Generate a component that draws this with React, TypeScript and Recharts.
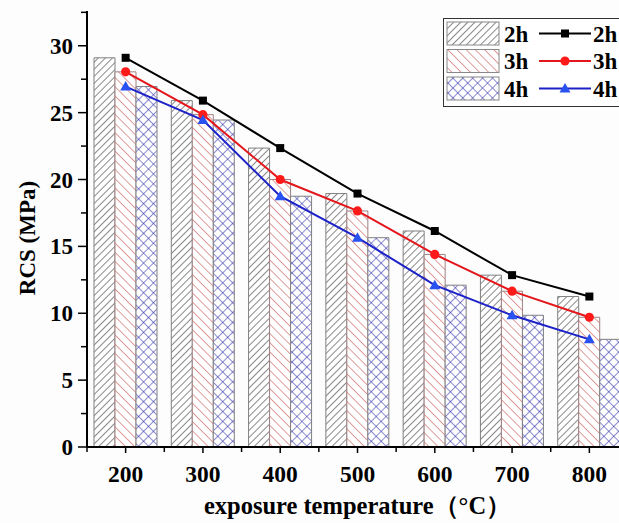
import {
  ComposedChart,
  Bar,
  Line,
  XAxis,
  YAxis,
  Legend,
} from "recharts";

// RCS vs exposure temperature, bars + lines for 2h / 3h / 4h exposure.

const temperatures = ["200", "300", "400", "500", "600", "700", "800"];
const rcs2h = [29.1, 25.9, 22.35, 18.95, 16.15, 12.85, 11.25];
const rcs3h = [28.05, 24.85, 20.0, 17.65, 14.4, 11.65, 9.7];
const rcs4h = [26.95, 24.45, 18.75, 15.65, 12.1, 9.85, 8.05];
const yTicks = [0, 2.5, 5, 7.5, 10, 12.5, 15, 17.5, 20, 22.5, 25, 27.5, 30, 32.5];

const data = temperatures.map((t, i) => ({
  temp: t,
  h2: rcs2h[i],
  h3: rcs3h[i],
  h4: rcs4h[i],
}));

const W = 640;
const H = 523;
const M = { top: 11, right: 12, bottom: 0, left: 0 };
const Y_W = 87;
const BAND = (W - M.left - M.right - Y_W) / temperatures.length;

const FONT = "'Liberation Serif', 'Times New Roman', serif";
const LINE2 = "#000000";
const LINE3 = "#e3161b";
const LINE4 = "#1c22c8";
const DOT3 = "#ff1a1a";
const DOT4 = "#2a52f0";

function Square({ cx, cy, color }: any) {
  return <rect x={cx - 4} y={cy - 4} width={8} height={8} fill={color} />;
}
function Circle({ cx, cy, color }: any) {
  return <circle cx={cx} cy={cy} r={4.6} fill={color} />;
}
function Triangle({ cx, cy, color }: any) {
  return (
    <path
      d={`M${cx},${cy - 5.5} L${cx + 5.5},${cy + 4} L${cx - 5.5},${cy + 4} Z`}
      fill={color}
    />
  );
}

const YTick = ({ x, y, payload }: any) => {
  const major = payload.value % 5 === 0;
  return (
    <g>
      <line x1={x - (major ? 9 : 6)} x2={x} y1={y} y2={y} stroke="#000" strokeWidth={1.5} />
      {major && (
        <text
          x={x - 14}
          y={y + 8}
          textAnchor="end"
          fontFamily={FONT}
          fontWeight="bold"
          fontSize={23}
          fill="#000"
        >
          {payload.value}
        </text>
      )}
    </g>
  );
};

const XTick = ({ x, y, payload }: any) => (
  <g>
    <line x1={x} x2={x} y1={y} y2={y + 6} stroke="#000" strokeWidth={1.5} />
    <line x1={x - BAND / 2} x2={x - BAND / 2} y1={y} y2={y + 5} stroke="#000" strokeWidth={1.5} />
    <text
      x={x}
      y={y + 35}
      textAnchor="middle"
      fontFamily={FONT}
      fontWeight="bold"
      fontSize={23.5}
      fill="#000"
    >
      {payload.value}
    </text>
  </g>
);

const legendRows = [
  { name: "2h", fill: "url(#pat2h)", color: LINE2, Mark: Square, dot: LINE2 },
  { name: "3h", fill: "url(#pat3h)", color: LINE3, Mark: Circle, dot: DOT3 },
  { name: "4h", fill: "url(#pat4h)", color: LINE4, Mark: Triangle, dot: DOT4 },
];

const renderLegend = () => (
  <svg width={182} height={89} style={{ display: "block" }}>
    <rect x={0.5} y={0.5} width={181} height={88} fill="#fff" stroke="#333" strokeWidth={1} />
    {legendRows.map((r, i) => {
      const top = 4 + i * 27.5;
      const mid = top + 11.5;
      return (
        <g key={r.name}>
          <rect x={4} y={top} width={52} height={23} fill={r.fill} stroke="#888" strokeWidth={1} />
          <text x={61} y={mid + 8} fontFamily={FONT} fontWeight="bold" fontSize={23} fill="#000">
            {r.name}
          </text>
          <line x1={96} x2={148} y1={mid} y2={mid} stroke={r.color} strokeWidth={2} />
          <r.Mark cx={122} cy={mid} color={r.dot} />
          <text x={150} y={mid + 8} fontFamily={FONT} fontWeight="bold" fontSize={23} fill="#000">
            {r.name}
          </text>
        </g>
      );
    })}
  </svg>
);

export default function App() {
  return (
    <div
      style={{
        position: "absolute",
        left: 0,
        top: 0,
        width: 619,
        height: 523,
        overflow: "hidden",
        background: "#fdfdfd",
      }}
    >
      <ComposedChart width={W} height={H} data={data} margin={M} barGap={0}>
        <defs>
          <pattern id="pat2h" patternUnits="userSpaceOnUse" width={5} height={5} patternTransform="rotate(45)">
            <rect width={5} height={5} fill="#fff" />
            <line x1={0} y1={0} x2={0} y2={5} stroke="#262626" strokeWidth={1.1} />
          </pattern>
          <pattern id="pat3h" patternUnits="userSpaceOnUse" width={6.5} height={6.5} patternTransform="rotate(-45)">
            <rect width={6.5} height={6.5} fill="#fff" />
            <line x1={0} y1={0} x2={0} y2={6.5} stroke="#c44a45" strokeWidth={1.1} />
          </pattern>
          <pattern id="pat4h" patternUnits="userSpaceOnUse" width={7} height={7} patternTransform="rotate(45)">
            <rect width={7} height={7} fill="#fff" />
            <line x1={0} y1={0} x2={0} y2={7} stroke="#2c2ca8" strokeWidth={1.1} />
            <line x1={0} y1={0} x2={7} y2={0} stroke="#2c2ca8" strokeWidth={1.1} />
          </pattern>
        </defs>
        <XAxis
          dataKey="temp"
          height={76}
          axisLine={{ stroke: "#000", strokeWidth: 2 }}
          tickLine={false}
          tickSize={0}
          tickMargin={0}
          interval={0}
          tick={<XTick />}
          label={({ viewBox }: any) => (
            <text
              x={viewBox.x + viewBox.width / 2}
              y={viewBox.y + 67}
              textAnchor="middle"
              fontFamily={FONT}
              fontWeight="bold"
              fontSize={24.5}
              fill="#000"
            >
              exposure temperature（°C）
            </text>
          )}
        />
        <YAxis
          width={Y_W}
          domain={[0, 32.6]}
          ticks={yTicks}
          interval={0}
          axisLine={{ stroke: "#000", strokeWidth: 2 }}
          tickLine={false}
          tickSize={0}
          tickMargin={0}
          tick={<YTick />}
          label={({ viewBox }: any) => {
            const cx = 27;
            const cy = viewBox.y + viewBox.height / 2 + 9;
            return (
              <text
                x={cx}
                y={cy}
                transform={`rotate(-90, ${cx}, ${cy})`}
                textAnchor="middle"
                dominantBaseline="central"
                fontFamily={FONT}
                fontWeight="bold"
                fontSize={23}
                fill="#000"
              >
                RCS (MPa)
              </text>
            );
          }}
        />
        <Legend
          layout="horizontal"
          verticalAlign="middle"
          content={renderLegend}
          wrapperStyle={{ position: "absolute", left: 443, top: 18, width: 182 }}
        />
        <Bar dataKey="h2" barSize={21} fill="url(#pat2h)" stroke="#808080" strokeWidth={1} isAnimationActive={false} legendType="none" />
        <Bar dataKey="h3" barSize={21} fill="url(#pat3h)" stroke="#a08080" strokeWidth={1} isAnimationActive={false} legendType="none" />
        <Bar dataKey="h4" barSize={21} fill="url(#pat4h)" stroke="#808080" strokeWidth={1} isAnimationActive={false} legendType="none" />
        <Line
          type="linear"
          dataKey="h2"
          stroke={LINE2}
          strokeWidth={2}
          isAnimationActive={false}
          dot={(p: any) => <Square key={`s${p.index}`} cx={p.cx} cy={p.cy} color={LINE2} />}
          activeDot={false}
        />
        <Line
          type="linear"
          dataKey="h3"
          stroke={LINE3}
          strokeWidth={2}
          isAnimationActive={false}
          dot={(p: any) => <Circle key={`c${p.index}`} cx={p.cx} cy={p.cy} color={DOT3} />}
          activeDot={false}
        />
        <Line
          type="linear"
          dataKey="h4"
          stroke={LINE4}
          strokeWidth={2}
          isAnimationActive={false}
          dot={(p: any) => <Triangle key={`t${p.index}`} cx={p.cx} cy={p.cy} color={DOT4} />}
          activeDot={false}
        />
      </ComposedChart>
    </div>
  );
}
